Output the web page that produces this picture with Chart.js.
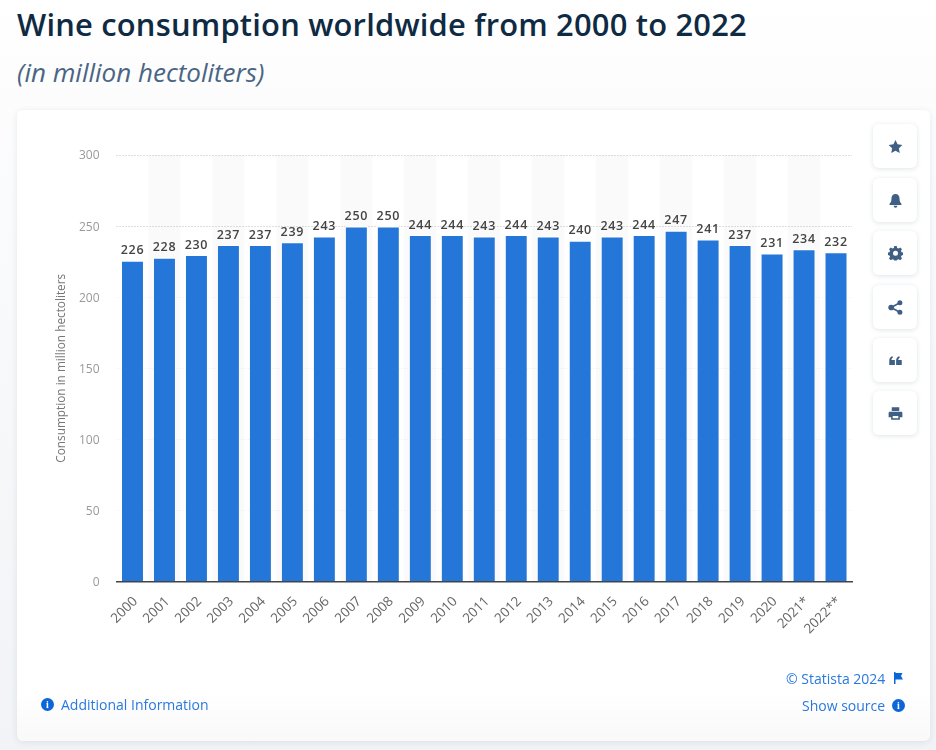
<!DOCTYPE html>
<html><head><meta charset="utf-8">
<script src="https://cdn.jsdelivr.net/npm/chart.js@4"></script>
<style>
html,body{margin:0;padding:0;width:936px;height:750px;overflow:hidden;background:linear-gradient(to bottom,#fff 0,#fdfdfe 70px,#f1f3f6 100%);font-family:"Open Sans",sans-serif}
#title{position:absolute;left:17px;top:3px;font-size:30.900px;font-weight:600;color:#0f2a43;white-space:nowrap;letter-spacing:.2px}
#sub{position:absolute;left:17px;top:54px;font-size:26px;font-style:italic;color:#4a6584;white-space:nowrap;line-height:36px}
#card{position:absolute;left:17px;top:110px;width:913px;height:631px;background:linear-gradient(to bottom,#fff 92%,#f9f9fa 100%);border-radius:6px;box-shadow:0 1px 6px rgba(60,80,110,.12)}
canvas{position:absolute;left:0;top:0}
.b{position:absolute;left:873px;width:44px;height:44px;background:#fff;border-radius:6px;box-shadow:0 1px 5px rgba(60,80,110,.16);display:flex;align-items:center;justify-content:center}
.b svg{width:15px;height:15px;fill:#3f5f85}
.l{position:absolute;font-size:14px;color:#2a78de;white-space:nowrap;line-height:18px}
.i{position:absolute;width:13px;height:13px;border-radius:50%;background:#0b66d8;color:#fff;font:bold 10px/13px "Liberation Serif",serif;text-align:center}
</style></head><body>
<div id="title">Wine consumption worldwide from 2000 to 2022</div>
<div id="sub">(in million hectoliters)</div>
<div id="card"></div>
<canvas id="c" width="936" height="750"></canvas>
<div class="b" style="top:124px"><svg viewBox="0 0 24 24"><path d="M12 1.5l3.3 7 7.7 1-5.6 5.3 1.4 7.7-6.800-3.700-6.800 3.700 1.400-7.700L1 9.500l7.700-1z"/></svg></div>
<div class="b" style="top:178px"><svg viewBox="0 0 24 24"><path d="M12 1.500c4 0 6.500 3 6.500 7.500 0 4 1 6 3 8v2H2.500v-2c2-2 3-4 3-8 0-4.500 2.500-7.500 6.500-7.500zM9 20.500h6a3 3 0 0 1-6 0z"/></svg></div>
<div class="b" style="top:231px"><svg viewBox="0 0 24 24"><path fill-rule="evenodd" d="M10 1h4l.6 3 2.400 1 2.600-1.700 2.800 2.800L20.700 8.700l1 2.300 3 .6v3.800l-3 .6-1 2.300 1.700 2.600-2.800 2.800-2.600-1.700-2.400 1-.6 1H10l-.6-1-2.400-1-2.600 1.700-2.800-2.800 1.700-2.600-1-2.300-3-.6v-3.800l3-.6 1-2.300L1.600 6.100l2.800-2.800L7 5l2.400-1zM12 8.500a4 4 0 1 0 0 8 4 4 0 0 0 0-8z" transform="translate(0 -1)"/></svg></div>
<div class="b" style="top:285px"><svg viewBox="0 0 24 24"><circle cx="5" cy="12" r="4.500"/><circle cx="19" cy="4.500" r="4"/><circle cx="19" cy="19.500" r="4"/><path d="M5 12L19 4.500M5 12l14 7.500" stroke="#3f5f85" stroke-width="2.500"/></svg></div>
<div class="b" style="top:338px"><svg viewBox="0 0 24 24"><path d="M2 19v-7c0-4 2-6 5-7l1 2c-1.500.8-2.500 2-2.500 4H11v8zM13 19v-7c0-4 2-6 5-7l1 2c-1.500.8-2.500 2-2.500 4H22v8z"/></svg></div>
<div class="b" style="top:391px"><svg viewBox="0 0 24 24"><path fill-rule="evenodd" d="M6 2h12v6H6zM3 9h18a2 2 0 0 1 2 2v7h-4v4H5v-4H1v-7a2 2 0 0 1 2-2zM7.500 16v3.500h9V16z"/></svg></div>
<div class="l" style="left:786px;top:670px">© Statista 2024</div>
<svg style="position:absolute;left:893px;top:672px;width:11px;height:12px" viewBox="0 0 11 12"><path d="M1 0h1.500v1h7L8 4l2 3.500H2.500V12H1z" fill="#0b66d8"/></svg>
<div class="l" style="left:802px;top:697px">Show source</div>
<div class="i" style="left:892px;top:699px">i</div>
<div class="i" style="left:41px;top:698px">i</div>
<div class="l" style="left:61px;top:696px">Additional Information</div>
<script>
const categories=["2000","2001","2002","2003","2004","2005","2006","2007","2008","2009","2010","2011","2012","2013","2014","2015","2016","2017","2018","2019","2020","2021*","2022**"];
const consumption=[226,228,230,237,237,239,243,250,250,244,244,243,244,243,240,243,244,247,241,237,231,234,232];
const yTicks=[0,50,100,150,200,250,300];
const yAxisTitle="Consumption in million hectoliters";

const stripes={id:"stripes",beforeDatasetsDraw(ch){
  const {ctx,chartArea:a,scales:{x}}=ch;ctx.save();ctx.fillStyle="#fafafa";
  const band=x.getPixelForValue(1)-x.getPixelForValue(0);
  categories.forEach((c,i)=>{if(i%2===1)ctx.fillRect(x.getPixelForValue(i)-band/2,a.top,band,a.bottom-a.top);});
  ctx.setLineDash([1,2]);ctx.lineWidth=1;
  yTicks.forEach(v=>{if(!v)return;const y=Math.round(ch.scales.y.getPixelForValue(v))+.5;ctx.strokeStyle=v===300||v===250?"#bdbdbd":"#ececec";ctx.beginPath();ctx.moveTo(a.left,y);ctx.lineTo(a.right,y);ctx.stroke();});
  ctx.restore();
}};
const labels={id:"labels",afterDatasetsDraw(ch){
  const {ctx}=ch;ctx.save();ctx.font='600 12.5px "Open Sans"';ctx.fillStyle="#444";ctx.textAlign="center";ctx.textBaseline="alphabetic";
  if("letterSpacing" in ctx)ctx.letterSpacing="0.7px";
  ch.getDatasetMeta(0).data.forEach((b,i)=>ctx.fillText(consumption[i],b.x,b.y-6));
  ctx.restore();
}};
Chart.defaults.font.family='"Open Sans"';
new Chart(document.getElementById("c"),{
  type:"bar",
  data:{labels:categories,datasets:[{data:consumption,backgroundColor:"#2477d8",borderColor:"#ffffff",borderWidth:{top:1.5,left:0.5,right:0.5,bottom:0},barPercentage:.6875,categoryPercentage:1}]},
  plugins:[stripes,labels],
  options:{responsive:false,animation:false,
    layout:{padding:{left:55,right:84,top:155,bottom:88}},
    plugins:{legend:{display:false},tooltip:{enabled:false}},
    scales:{
      x:{grid:{display:false},border:{display:true,color:"#444",width:1.5,z:1},
        ticks:{maxRotation:45,minRotation:45,autoSkip:false,color:"#666",font:{size:13.500},padding:4,labelOffset:3},
        afterFit(s){s.height=80.5;}},
      y:{min:0,max:300,grid:{display:false},border:{display:false},
        afterBuildTicks(s){s.ticks=yTicks.map(v=>({value:v}));},
        ticks:{color:"#999",font:{size:12},padding:9,labelOffset:1},
        title:{display:true,text:yAxisTitle,color:"#777",font:{size:11.800},padding:0},
        afterFit(s){s.width=61.5;}}
    }}
});
</script></body></html>
